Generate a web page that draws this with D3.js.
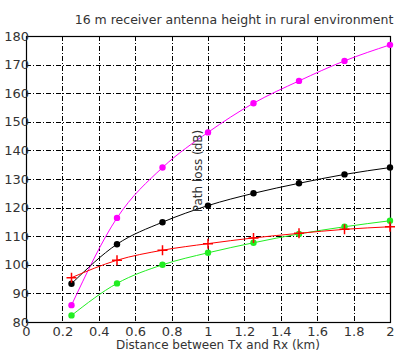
<!DOCTYPE html>
<html><head><meta charset="utf-8">
<script src="https://cdn.jsdelivr.net/npm/d3@7"></script>
<style>body{margin:0;background:#fff}svg text{font-family:"DejaVu Sans",sans-serif}</style>
</head><body><svg id="c" width="405" height="357"></svg>
<script>
const distances = [0.25, 0.5, 0.75, 1.0, 1.25, 1.5, 1.75, 2.0];
const magentaSeries = [85.9, 116.4, 134.0, 146.3, 156.5, 164.3, 171.3, 176.9];
const blackSeries = [93.4, 107.2, 114.9, 120.7, 125.0, 128.5, 131.6, 134.0];
const redSeries = [95.5, 101.6, 105.1, 107.4, 109.4, 111.0, 112.4, 113.3];
const greenSeries = [82.3, 93.5, 100.0, 104.2, 107.7, 110.8, 113.3, 115.4];
const xTicks = [0, 0.2, 0.4, 0.6, 0.8, 1, 1.2, 1.4, 1.6, 1.8, 2];
const yTicks = [80, 90, 100, 110, 120, 130, 140, 150, 160, 170, 180];
const titleText = "16 m receiver antenna height in rural environment";
const xLabel = "Distance between Tx and Rx (km)";
const yLabel = "Path loss (dB)";

const svg = d3.select("#c");
const L = 26, R = 390, T = 36, B = 322;
const x = d3.scaleLinear().domain([0, 2]).range([L, R]);
const y = d3.scaleLinear().domain([80, 180]).range([B, T]);

// grid
const grid = svg.append("g").attr("stroke", "#000").attr("stroke-width", 1).attr("stroke-dasharray", "5,2,1,2");
grid.selectAll(".vx").data(xTicks.slice(1, -1)).join("line")
  .attr("x1", d => Math.round(x(d)) + 0.5).attr("x2", d => Math.round(x(d)) + 0.5).attr("y1", T).attr("y2", B);
grid.selectAll(".hy").data(yTicks.slice(1, -1)).join("line")
  .attr("y1", d => Math.round(y(d)) + 0.5).attr("y2", d => Math.round(y(d)) + 0.5).attr("x1", L).attr("x2", R);

// frame
svg.append("rect").attr("x", L + 0.5).attr("y", T + 0.5).attr("width", R - L).attr("height", B - T)
  .attr("fill", "none").attr("stroke", "#000").attr("stroke-width", 1.2);

// axes labels
const xAxis = d3.axisBottom(x).tickValues(xTicks).tickSize(0).tickPadding(5).tickFormat(d3.format("~g"));
const gx = svg.append("g").attr("transform", `translate(0,${B})`).call(xAxis);
gx.select(".domain").remove();
gx.selectAll("text").attr("font-size", 13).attr("fill", "#333");
const yAxis = d3.axisLeft(y).tickValues(yTicks).tickSize(0).tickPadding(-3);
const gy = svg.append("g").attr("transform", `translate(${L},0)`).call(yAxis);
gy.select(".domain").remove();
gy.selectAll("text").attr("font-size", 13).attr("fill", "#333");

// series
const series = [
  {vals: magentaSeries, color: "#ff00ff", marker: "circle"},
  {vals: blackSeries, color: "#000000", marker: "circle"},
  {vals: greenSeries, color: "#22ee22", marker: "circle"},
  {vals: redSeries, color: "#ff0000", marker: "plus"}
];
const line = d3.line().x(d => x(d[0])).y(d => y(d[1])).curve(d3.curveMonotoneX);
series.forEach(s => {
  const pts = distances.map((d, i) => [d, s.vals[i]]);
  svg.append("path").datum(pts).attr("d", line).attr("fill", "none").attr("stroke", s.color).attr("stroke-width", 1);
  if (s.marker === "circle") {
    svg.append("g").selectAll("circle").data(pts).join("circle")
      .attr("cx", d => x(d[0])).attr("cy", d => y(d[1])).attr("r", 3.2).attr("fill", s.color);
  } else {
    svg.append("g").selectAll("path").data(pts).join("path")
      .attr("d", d => `M${x(d[0]) - 5},${y(d[1])}H${x(d[0]) + 5}M${x(d[0])},${y(d[1]) - 5}V${y(d[1]) + 5}`)
      .attr("stroke", s.color).attr("stroke-width", 1.5);
  }
});

// title and labels
svg.append("text").attr("x", 234).attr("y", 24).attr("text-anchor", "middle").attr("font-size", 12.5).attr("fill", "#333").text(titleText);
svg.append("text").attr("x", 218).attr("y", 349).attr("text-anchor", "middle").attr("font-size", 12).attr("fill", "#333").text(xLabel);
svg.append("text").attr("transform", "translate(202,171) rotate(-90)").attr("text-anchor", "middle").attr("font-size", 12).attr("fill", "#333").text(yLabel);
</script></body></html>
